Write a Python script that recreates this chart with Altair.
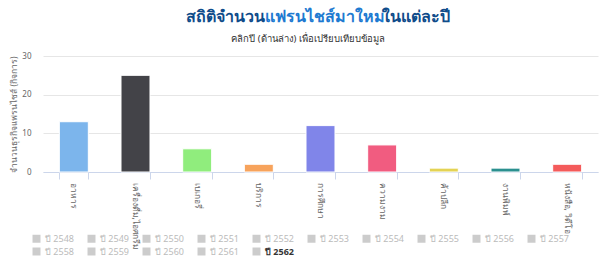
import altair as alt
import pandas as pd

categories = ["อาหาร", "เครื่องดื่ม,ไอศกรีม", "เบเกอรี่", "บริการ", "การศึกษา",
              "ความงาม", "ค้าปลีก", "งานพิมพ์", "หนังสือ, วิดีโอ"]
values = [13, 25, 6, 2, 12, 7, 1, 1, 2]
colors = ["#7cb5ec", "#434348", "#90ed7d", "#f7a35c", "#8085e9",
          "#f15c80", "#e4d354", "#2b908f", "#f45b5b"]
years = ["ปี 2548", "ปี 2549", "ปี 2550", "ปี 2551", "ปี 2552", "ปี 2553",
         "ปี 2554", "ปี 2555", "ปี 2556", "ปี 2557", "ปี 2558", "ปี 2559",
         "ปี 2560", "ปี 2561", "ปี 2562"]
active_year = "ปี 2562"
y_ticks = [0, 10, 20, 30]

FONT = "Noto Sans"
W, H = 555, 116

df = pd.DataFrame({"cat": categories, "val": values})

bars = alt.Chart(df).mark_bar(stroke="white", strokeWidth=1).encode(
    x=alt.X("cat:N", sort=categories, title=None,
            scale=alt.Scale(paddingInner=0.53, paddingOuter=0.265),
            axis=alt.Axis(labelAngle=90, labelFontSize=8.5, labelColor="#666666",
                          labelFont=FONT, domainColor="#ccd6eb", tickColor="#ccd6eb",
                          tickBand="extent", tickSize=7, labelPadding=3,
                          labelLimit=200)),
    y=alt.Y("val:Q", scale=alt.Scale(domain=[0, 30], nice=False),
            title="จำนวนธุรกิจแฟรนไชส์ (กิจการ)",
            axis=alt.Axis(values=y_ticks, ticks=False, domain=False,
                          gridColor="#e6e6e6", labelColor="#666666", labelFontSize=8,
                          labelFont=FONT, titleFont=FONT, titleFontSize=8.5,
                          titleFontWeight="normal", titleColor="#666666",
                          titlePadding=3, labelPadding=12)),
    color=alt.Color("cat:N", scale=alt.Scale(domain=categories, range=colors),
                    legend=None),
)

ydf = pd.DataFrame({"year": years})
legend_layer = alt.Chart(ydf).mark_square(opacity=0, size=0).encode(
    x=alt.value(0), y=alt.value(0),
    fill=alt.Fill("year:N", scale=alt.Scale(domain=years, range=["#cccccc"] * len(years)),
                  legend=alt.Legend(
                      orient="none", legendX=-11, legendY=178, columns=10,
                      direction="horizontal", title=None, symbolType="square",
                      symbolSize=64, symbolOpacity=1, symbolStrokeWidth=0,
                      labelFont=FONT, labelFontSize=9, labelLimit=40,
                      labelColor={"expr": f"datum.label === '{active_year}' ? '#333333' : '#bbbbbb'"},
                      labelFontWeight={"expr": f"datum.label === '{active_year}' ? 'bold' : 'normal'"},
                      columnPadding=13, rowPadding=3, symbolOffset=0,
                      labelOffset=4)),
)

def txt(s, x, y, size, color, align, weight="normal"):
    return alt.Chart(pd.DataFrame({"t": [s]})).mark_text(
        font=FONT, fontSize=size, color=color, align=align, baseline="middle",
        fontWeight=weight).encode(text="t:N", x=alt.value(x), y=alt.value(y))

title_l = txt("สถิติจำนวน", 222, -39, 16, "#0f4c8a", "right", "bold")
title_m = txt("แฟรนไชส์มาใหม่", 222, -39, 16, "#1e7ad1", "left", "bold")
title_r = txt("ในแต่ละปี", 339, -39, 16, "#0f4c8a", "left", "bold")
subtitle = txt("คลิกปี (ด้านล่าง) เพื่อเปรียบเทียบข้อมูล", 265, -17, 9.5, "#333333", "center")

chart = alt.layer(bars, legend_layer, title_l, title_m, title_r, subtitle).resolve_scale(
    color="independent", fill="independent"
).properties(
    width=W, height=H,
    autosize=alt.AutoSizeParams(type="none"),
    padding={"left": 43, "top": 56, "right": 18, "bottom": 107},
    background="white",
).configure_view(stroke=None)

chart.save("out.html", embed_options={"renderer": "svg", "actions": False})
